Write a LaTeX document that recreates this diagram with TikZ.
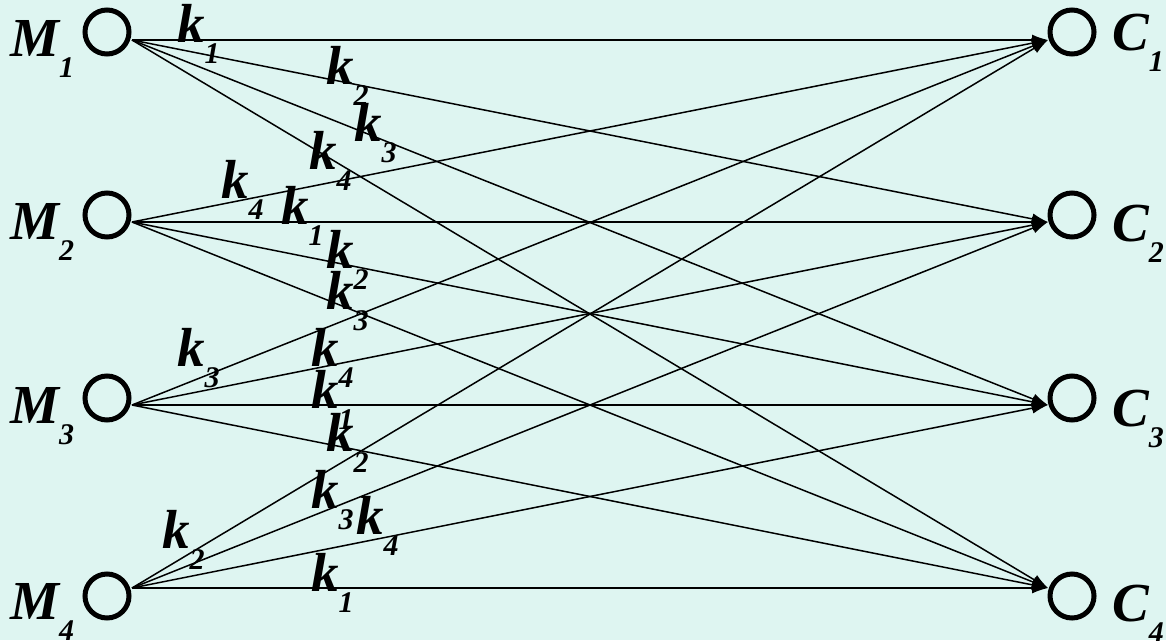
\documentclass[tikz,border=0pt]{standalone}
\usepackage{fontspec}
\setmainfont{Liberation Serif}
\usetikzlibrary{arrows.meta}
\definecolor{bgc}{RGB}{222,245,241}
\newcommand{\withsub}[2]{#1\raisebox{-21pt}{\fontsize{30}{30}\selectfont #2}}
\begin{document}
\begin{tikzpicture}[x=1pt,y=-1pt,
  port/.style={circle,draw,line width=5pt,minimum size=44pt,inner sep=0pt},
  lab/.style={anchor=base west,inner sep=0pt,font=\fontsize{55}{60}\selectfont\bfseries\itshape},
  conn/.style={line width=1.5pt,-{Latex[length=16pt,width=11pt]}}]
\fill[bgc] (0,0) rectangle (1166,640);
\useasboundingbox (0,0) rectangle (1166,640);
% circles
\node[port] (M1) at (107,32) {};
\node[port] (M2) at (107,215) {};
\node[port] (M3) at (107,398) {};
\node[port] (M4) at (107,596) {};
\node[port] (C1) at (1072,32) {};
\node[port] (C2) at (1072,215) {};
\node[port] (C3) at (1072,398) {};
\node[port] (C4) at (1072,596) {};
% ports
\coordinate (s1) at (132,40);
\coordinate (s2) at (132,222);
\coordinate (s3) at (132,405);
\coordinate (s4) at (132,588);
\coordinate (e1) at (1048,40);
\coordinate (e2) at (1048,222);
\coordinate (e3) at (1048,405);
\coordinate (e4) at (1048,588);
% names
\node[lab] (LM1) at (10,56) {\withsub{M}{1}};
\node[lab] (LM2) at (10,239) {\withsub{M}{2}};
\node[lab] (LM3) at (10,423) {\withsub{M}{3}};
\node[lab] (LM4) at (10,619) {\withsub{M}{4}};
\node[lab] (LC1) at (1112,50) {\withsub{C}{1}};
\node[lab] (LC2) at (1112,241) {\withsub{C}{2}};
\node[lab] (LC3) at (1112,426) {\withsub{C}{3}};
\node[lab] (LC4) at (1112,621) {\withsub{C}{4}};
% connectors
\foreach \i in {1,2,3,4}{
  \foreach \j in {1,2,3,4}{
    \draw[conn] (s\i) -- (e\j);
  }
}
% labels
\node[lab] (k11) at (177,42) {\withsub{k}{1}};
\node[lab] (k12) at (326,84) {\withsub{k}{2}};
\node[lab] (k13) at (354,141) {\withsub{k}{3}};
\node[lab] (k14) at (309,169) {\withsub{k}{4}};
\node[lab] (k21) at (221,198) {\withsub{k}{4}};
\node[lab] (k22) at (281,224) {\withsub{k}{1}};
\node[lab] (k23) at (326,268) {\withsub{k}{2}};
\node[lab] (k24) at (326,309) {\withsub{k}{3}};
\node[lab] (k31) at (177,366) {\withsub{k}{3}};
\node[lab] (k32) at (311,366) {\withsub{k}{4}};
\node[lab] (k33) at (311,408) {\withsub{k}{1}};
\node[lab] (k34) at (326,451) {\withsub{k}{2}};
\node[lab] (k41) at (162,548) {\withsub{k}{2}};
\node[lab] (k42) at (311,508) {\withsub{k}{3}};
\node[lab] (k43) at (356,534) {\withsub{k}{4}};
\node[lab] (k44) at (311,591) {\withsub{k}{1}};
\end{tikzpicture}
\end{document}
